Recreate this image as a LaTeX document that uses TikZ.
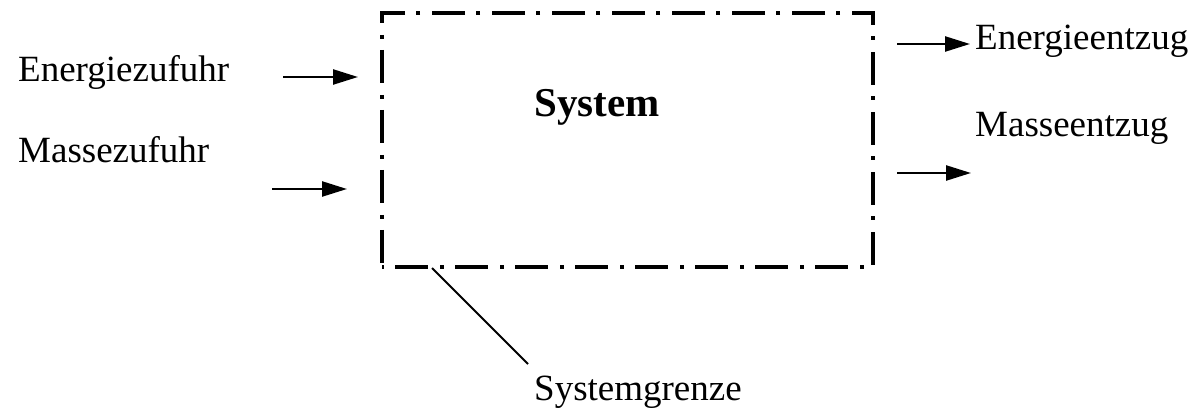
\documentclass[tikz,border=0pt]{standalone}
\usepackage{fontspec}
\setmainfont{Liberation Serif}
\usetikzlibrary{arrows.meta}
\begin{document}
\begin{tikzpicture}[x=1pt,y=-1pt,
  lbl/.style={anchor=base west,inner sep=0pt,font=\fontsize{37}{40}\selectfont},
  flow/.style={line width=2.4pt,-{Triangle[length=25pt,width=15pt]}},
  boundary/.style={draw,line width=4pt,dash pattern=on 33pt off 12pt on 4pt off 11pt,dash phase=47pt,minimum width=491pt,minimum height=254pt,inner sep=0pt}]
\useasboundingbox (0,0) rectangle (1195,414);
\node[boundary] (box) at (627.5,140) {};
\node[lbl,font=\fontsize{41}{44}\selectfont\bfseries] (sys) at (534,117) {System};
\node[lbl] (ez) at (18,82) {Energiezufuhr};
\node[lbl] (mz) at (18,163) {Massezufuhr};
\node[lbl] (ee) at (975,50) {Energieentzug};
\node[lbl] (me) at (975,137) {Masseentzug};
\node[lbl] (sg) at (534,400) {Systemgrenze};
\coordinate (a1s) at (283,77); \coordinate (a1e) at (358,77);
\coordinate (a2s) at (272,189); \coordinate (a2e) at (347,189);
\coordinate (a3s) at (897,44); \coordinate (a3e) at (970,44);
\coordinate (a4s) at (897,173); \coordinate (a4e) at (971,173);
\coordinate (gs) at (432,268); \coordinate (ge) at (528,364);
\draw[flow] (a1s) -- (a1e);
\draw[flow] (a2s) -- (a2e);
\draw[flow] (a3s) -- (a3e);
\draw[flow] (a4s) -- (a4e);
\draw[line width=2pt] (gs) -- (ge);
\end{tikzpicture}
\end{document}
